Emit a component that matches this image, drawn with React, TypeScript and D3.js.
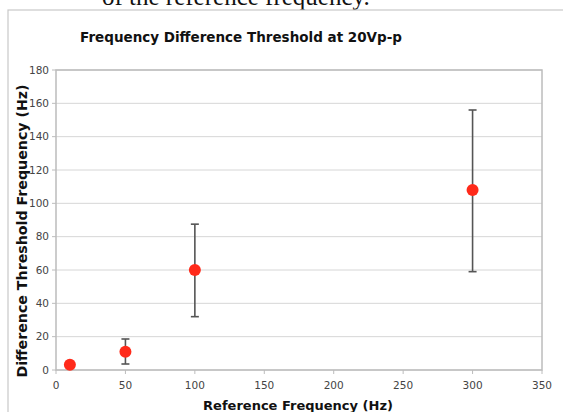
import React from "react";
import * as d3 from "d3";

const refFreq = [10, 50, 100, 300];
const threshold = [3.2, 11, 60, 108];
const errLow = [3.2, 3.6, 32, 59];
const errHigh = [3.2, 18.6, 87.5, 156];
const xTicks = [0, 50, 100, 150, 200, 250, 300, 350];
const yTicks = [0, 20, 40, 60, 80, 100, 120, 140, 160, 180];

const W = 563;
const H = 412;
const left = 56, right = 542, top = 70, bottom = 370;

export default function App() {
  const x = d3.scaleLinear().domain([0, 350]).range([left, right]);
  const y = d3.scaleLinear().domain([0, 180]).range([bottom, top]);
  const font = "'DejaVu Sans', Verdana, sans-serif";
  return (
    <svg width={W} height={H} style={{ position: "absolute", left: 0, top: 0, background: "#fff" }}>
      <rect x={0} y={0} width={W} height={H} fill="#fff" />
      <text x={102} y={5} fontFamily="'Liberation Serif', 'Times New Roman', serif" fontSize={25} fill="#111">
        of the reference frequency.
      </text>
      <rect x={8} y={10} width={W + 20} height={H + 20} fill="#fff" stroke="#c8c8c8" strokeWidth={1.2} />
      <text x={241} y={42} textAnchor="middle" fontFamily={font} fontWeight="bold" fontSize={13.5} fill="#111">
        Frequency Difference Threshold at 20Vp-p
      </text>
      {yTicks.map((t) => (
        <line key={"g" + t} x1={left} x2={right} y1={y(t)} y2={y(t)} stroke="#d6d6d6" strokeWidth={1} />
      ))}
      <rect x={left} y={top} width={right - left} height={bottom - top} fill="none" stroke="#bcbcbc" strokeWidth={1.5} />
      {yTicks.map((t) => (
        <g key={"yt" + t}>
          <line x1={left - 4} x2={left} y1={y(t)} y2={y(t)} stroke="#bcbcbc" />
          <text x={49} y={y(t) + 3.5} textAnchor="end" fontFamily={font} fontSize={10.5} fill="#444">
            {t}
          </text>
        </g>
      ))}
      {xTicks.map((t) => (
        <g key={"xt" + t}>
          <line x1={x(t)} x2={x(t)} y1={bottom} y2={bottom + 4} stroke="#bcbcbc" />
          <text x={x(t)} y={389} textAnchor="middle" fontFamily={font} fontSize={10.5} fill="#444">
            {t}
          </text>
        </g>
      ))}
      <text x={298} y={410} textAnchor="middle" fontFamily={font} fontWeight="bold" fontSize={13} fill="#111">
        Reference Frequency (Hz)
      </text>
      <text
        transform={`translate(26.5,231) rotate(-90)`}
        textAnchor="middle"
        fontFamily={font}
        fontWeight="bold"
        fontSize={14.2}
        fill="#111"
      >
        Difference Threshold Frequency (Hz)
      </text>
      {refFreq.map((f, i) =>
        errHigh[i] - errLow[i] > 0.5 ? (
          <g key={"e" + i} stroke="#555" strokeWidth={1.6}>
            <line x1={x(f)} x2={x(f)} y1={y(errLow[i])} y2={y(errHigh[i])} />
            <line x1={x(f) - 4} x2={x(f) + 4} y1={y(errLow[i])} y2={y(errLow[i])} />
            <line x1={x(f) - 4} x2={x(f) + 4} y1={y(errHigh[i])} y2={y(errHigh[i])} />
          </g>
        ) : null
      )}
      {refFreq.map((f, i) => (
        <circle key={"p" + i} cx={x(f)} cy={y(threshold[i])} r={6} fill="#ff2a1a" />
      ))}
    </svg>
  );
}
